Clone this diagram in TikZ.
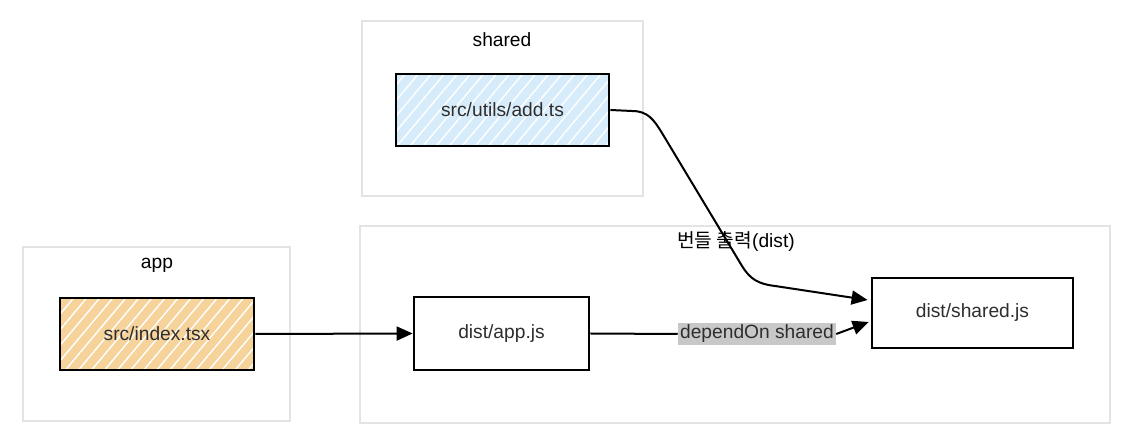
\documentclass[tikz,border=0pt]{standalone}
\usepackage{fontspec}
\setmainfont{Liberation Sans}
\newfontfamily\krfont{Noto Sans CJK KR}
\usepackage{tikz}
\usetikzlibrary{calc,positioning,arrows.meta,patterns.meta}

\definecolor{groupgray}{HTML}{E3E3E3}
\definecolor{addblue}{HTML}{D7ECFB}
\definecolor{srcorange}{HTML}{F6D39B}
\definecolor{labelgray}{HTML}{C8C8C8}
\definecolor{textgray}{HTML}{2E2E2E}

\tikzset{
	group/.style={draw=groupgray, line width=1pt, fill=white},
	file/.style={draw=black, line width=1.4pt, text=textgray},
	hatched/.style={preaction={fill=#1}, preaction={pattern={Lines[angle=50, distance=5pt, line width=0.7pt]}, pattern color=white}},
	arr/.style={line width=1pt, -{Triangle[length=8pt, width=7pt]}},
}

\begin{document}
\begin{tikzpicture}[x=0.5pt, y=-0.5pt, font=\fontsize{9.6}{11}\selectfont]
	\useasboundingbox (0,0) rectangle (1146,448);

	\node (shared) at (502.5,108.5) [group, minimum width=140.5pt, minimum height=87.5pt] {};
	\node (app) at (156.5,334) [group, minimum width=133.5pt, minimum height=87pt] {};
	\node (dist) at (735,324.5) [group, minimum width=375pt, minimum height=98.5pt] {};

	\node (sharedlabel) at (502,40) {shared};
	\node (applabel) at (157,265) {app};
	\node (distlabel) at (736,242) {{\krfont 번들 출력}(dist)};

	\node (add) at (502.5,110) [file, hatched=addblue, minimum width=106.5pt, minimum height=36pt] {src/utils/add.ts};
	\node (index) at (157,334) [file, hatched=srcorange, minimum width=97pt, minimum height=36pt] {src/index.tsx};
	\node (appjs) at (501.5,333.5) [file, fill=white, minimum width=87.5pt, minimum height=36.5pt] {dist/app.js};
	\node (sharedjs) at (972.5,313) [file, fill=white, minimum width=100.5pt, minimum height=35pt] {dist/shared.js};

	\node (dep) at (757,334) [fill=labelgray, text=textgray, inner sep=1pt] {dependOn shared};

	\draw [arr] (index.east) -- (appjs.west);
	\draw [line width=1pt] (appjs.east) -- (dep.west);
	\draw [arr] (dep.east) -- ($(sharedjs.west)+(-2,9)$);
	\draw [arr] (add.east) -- (632,111) .. controls (648,111) and (654,120) .. (662,133) -- (742,266) .. controls (750,279) and (758,284) .. (775,286) -- ($(sharedjs.west)+(-3,-13)$);
\end{tikzpicture}
\end{document}
